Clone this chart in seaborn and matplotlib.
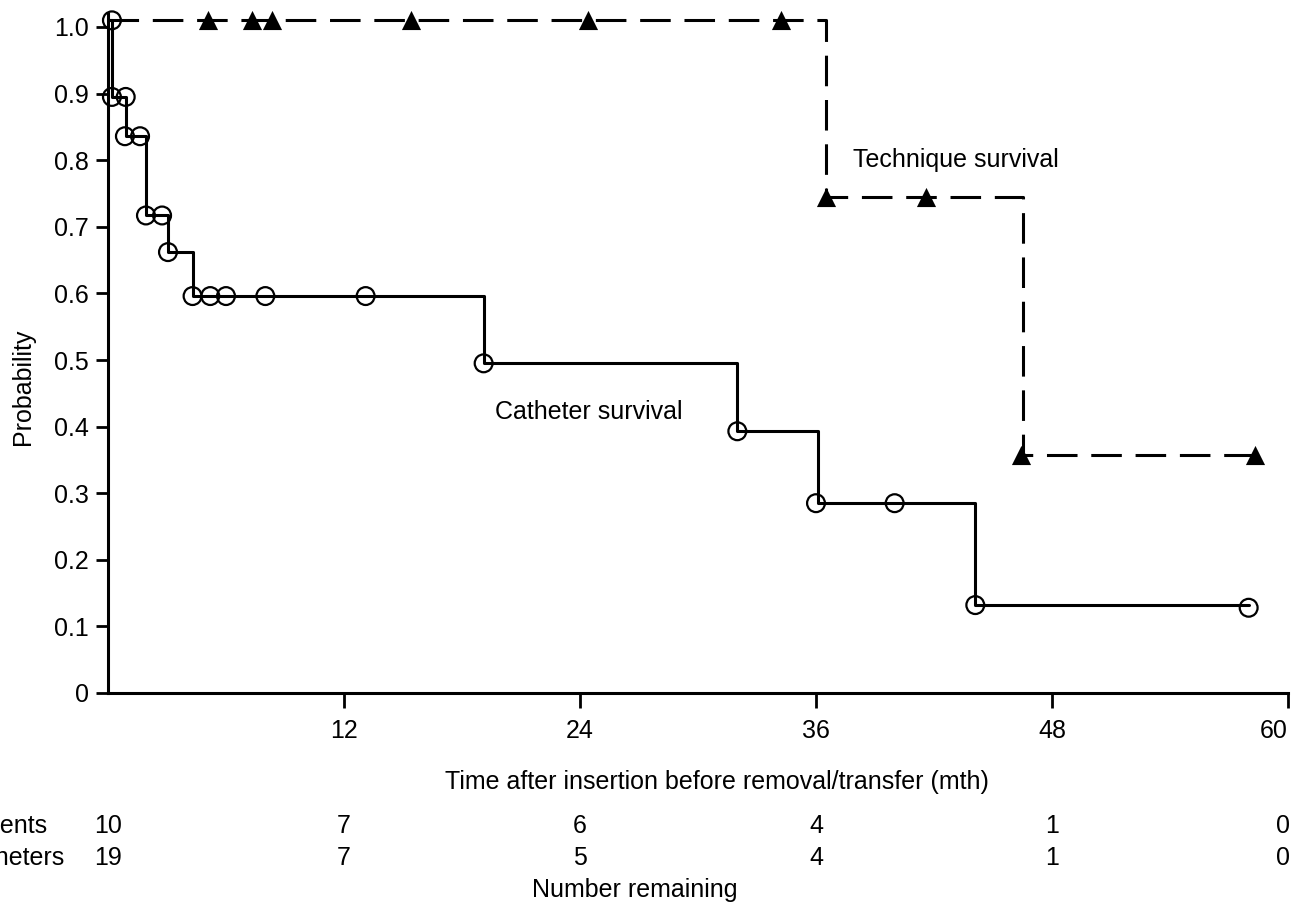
import matplotlib
matplotlib.use("Agg")
import matplotlib.pyplot as plt
import seaborn as sns
import pandas as pd
import matplotlib.transforms as mtransforms

# catheter survival: step curve and censor/event circles
cath_step_t = [0, 0.2, 0.9, 1.93, 3.05, 4.3, 19.1, 32.0, 36.1, 44.1, 58.0]
cath_step_p = [1.01, 0.895, 0.836, 0.717, 0.662, 0.596, 0.495, 0.393, 0.285, 0.132, 0.132]
cath_mark_t = [0.2, 0.2, 0.9, 0.86, 1.63, 1.93, 2.75, 3.05, 4.3, 5.2, 6.0, 8.0, 13.1,
               19.1, 32.0, 36.0, 40.0, 44.1, 58.0]
cath_mark_p = [1.01, 0.895, 0.895, 0.836, 0.836, 0.717, 0.717, 0.662, 0.596, 0.596, 0.596,
               0.596, 0.596, 0.495, 0.393, 0.285, 0.285, 0.132, 0.128]

# technique survival
tech_step_t = [0, 36.5, 46.5, 58.3]
tech_step_p = [1.01, 0.745, 0.357, 0.357]
tech_mark_t = [5.1, 7.3, 8.35, 15.4, 24.4, 34.2, 36.5, 41.6, 46.4, 58.3]
tech_mark_p = [1.01, 1.01, 1.01, 1.01, 1.01, 1.01, 0.745, 0.745, 0.357, 0.357]

# number remaining table
table_t = [0, 12, 24, 36, 48, 60]
patients_left = [10, 7, 6, 4, 1, 0]
catheters_left = [19, 7, 5, 4, 1, 0]

sns.set_style("ticks")
plt.rcParams["font.family"] = ["Liberation Sans", "DejaVu Sans"]
plt.rcParams.update({
    "font.size": 18,
    "text.color": "black",
    "axes.labelcolor": "black",
    "axes.edgecolor": "black",
    "xtick.color": "black",
    "ytick.color": "black",
})

W, H = 1294, 906
fig = plt.figure(figsize=(W / 100, H / 100), dpi=100)
ax = fig.add_axes([108 / W, 213 / H, 1180 / W, 1.02 * 666 / H])

cath_step = pd.DataFrame({"t": cath_step_t, "p": cath_step_p})
tech_step = pd.DataFrame({"t": tech_step_t, "p": tech_step_p})

sns.lineplot(data=cath_step, x="t", y="p", ax=ax, color="black", lw=2.2,
             drawstyle="steps-post", estimator=None, sort=False)
sns.lineplot(data=tech_step, x="t", y="p", ax=ax, color="black", lw=2.2,
             drawstyle="steps-post", estimator=None, sort=False,
             dashes=False, linestyle=(0, (10, 4.5)))

sns.scatterplot(x=cath_mark_t, y=cath_mark_p, ax=ax, marker="o", s=165,
                facecolor="none", edgecolor="black", linewidth=1.6, zorder=3,
                clip_on=False)
sns.scatterplot(x=tech_mark_t, y=tech_mark_p, ax=ax, marker="^", s=190,
                color="black", edgecolor="black", linewidth=0, zorder=3,
                clip_on=False)

ax.text(37.9, 0.8, "Technique survival", ha="left", va="center", fontsize=18)
ax.text(19.7, 0.422, "Catheter survival", ha="left", va="center", fontsize=18)

ax.set_xlim(0, 60)
ax.set_ylim(0, 1.02)
ax.set_xticks([12, 24, 36, 48, 60])
ax.set_yticks([i / 10 for i in range(11)])
ax.set_yticklabels(["0"] + [f"{i / 10:.1f}" for i in range(1, 11)])
ax.tick_params(axis="both", direction="out", width=2, length=9, labelsize=18, pad=5)
ax.tick_params(axis="x", length=11, pad=8)
ax.get_xticklabels()[-1].set_horizontalalignment("right")
sns.despine(ax=ax)
for sp in ("left", "bottom"):
    ax.spines[sp].set_linewidth(2.2)

# axis titles placed where the reference has them
ax.set_xlabel("Time after insertion before removal/transfer (mth)", fontsize=18, va="center")
ax.xaxis.set_label_coords((717 - 108) / 1180, (693 - 782) / 679)
ax.set_ylabel("Probability", fontsize=18, va="center")
ax.yaxis.set_label_coords((23 - 108) / 1180, (693 - 387) / 679)

# number remaining rows under the axis
trans = mtransforms.blended_transform_factory(ax.transData, fig.transFigure)
for t, n_pat, n_cat in zip(table_t, patients_left, catheters_left):
    tx = t - 0.25 if t == 60 else t
    ax.text(tx, 1 - 826 / H, str(n_pat), transform=trans, ha="center", va="center",
            fontsize=18, clip_on=False)
    ax.text(tx, 1 - 858 / H, str(n_cat), transform=trans, ha="center", va="center",
            fontsize=18, clip_on=False)
fig.text(47 / W, 1 - 826 / H, "Patients", ha="right", va="center", fontsize=18)
fig.text(65 / W, 1 - 858 / H, "Catheters", ha="right", va="center", fontsize=18)
fig.text(635 / W, 1 - 890 / H, "Number remaining", ha="center", va="center", fontsize=18)

fig.savefig("out.png", dpi=100)
